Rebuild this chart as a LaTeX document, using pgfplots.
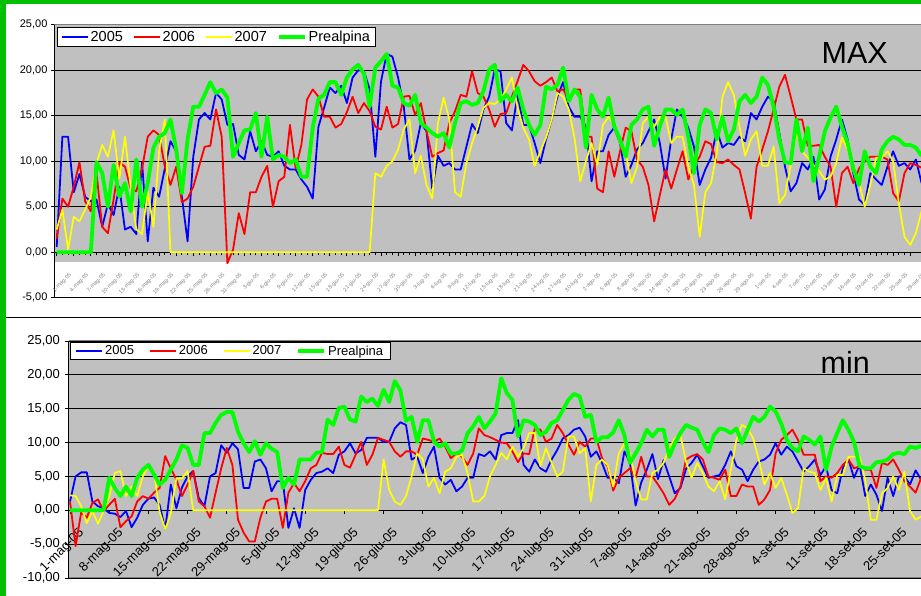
\documentclass[border=0pt]{standalone}
\usepackage{pgfplots}
\pgfplotsset{compat=1.18}
\usepackage{pgfplotstable}
\usepackage{fontspec}
\setmainfont{Liberation Sans}
\definecolor{bg}{RGB}{192,192,192}
\definecolor{c05}{RGB}{0,0,255}
\definecolor{c06}{RGB}{255,0,0}
\definecolor{c07}{RGB}{255,255,0}
\definecolor{cpre}{RGB}{0,255,0}
\definecolor{framegreen}{RGB}{0,192,0}

\pgfplotstableread{
d a b c p
0 0.6 1.5 2.5 0
1 12.7 5.9 4.7 0
2 12.7 5.0 0.3 0
3 6.6 7.2 3.9 0
4 8.6 9.9 3.4 0
5 6.1 5.6 4.7 0
6 5.6 4.5 6.1 0
7 5.8 8.7 9.8 9.9
8 2.8 2.8 11.8 8.7
9 5.3 2.1 10.5 5.0
10 4.1 5.8 13.4 9.6
11 7.2 9.9 8.1 6.1
12 2.5 9.4 12.7 7.6
13 2.8 7.0 7.2 4.5
14 2.0 6.7 2.5 10.2
15 9.9 9.2 2.0 5.0
16 1.2 12.7 6.7 7.6
17 7.1 13.4 2.8 11.5
18 6.1 12.9 11.1 12.7
19 9.2 9.4 14.6 13.1
20 12.2 7.4 0 14.6
21 11.1 9.4 0 11.3
22 6.1 5.5 0 6.5
23 1.2 5.9 0 12.4
24 10.5 7.2 0 16.0
25 14.6 9.4 0 16.0
26 15.3 11.6 0 17.3
27 14.6 11.7 0 18.7
28 17.5 15.7 0 17.5
29 16.8 12.7 0 17.9
30 14.0 -1.2 0 17.0
31 14.1 0.3 0 10.5
32 10.7 4.3 0 12.0
33 10.2 2.0 0 13.4
34 13.3 6.6 0 13.5
35 11.1 6.6 0 15.3
36 12.2 8.3 0 10.5
37 10.7 9.5 0 14.9
38 10.5 5.0 0 10.2
39 11.1 7.8 0 10.7
40 9.5 8.3 0 10.5
41 9.1 14.0 0 9.8
42 9.1 9.2 0 10.2
43 8.0 11.8 0 8.3
44 7.2 16.8 0 8.3
45 5.9 17.9 0 13.7
46 13.8 17.1 0 16.9
47 15.9 14.9 0 17.3
48 18.1 14.9 0 18.7
49 17.5 13.7 0 18.7
50 18.3 14.1 0 17.3
51 16.4 15.4 0 19.2
52 19.2 17.1 0 20.1
53 20.0 15.3 0 20.6
54 19.9 16.4 0 19.6
55 17.9 15.5 0 16.0
56 10.5 13.8 8.7 20.3
57 18.8 13.5 8.3 21.0
58 21.8 16.0 9.5 21.8
59 21.5 13.7 10.0 18.3
60 19.2 14.1 11.3 18.1
61 16.0 17.1 13.5 16.4
62 10.2 17.2 14.6 16.1
63 11.2 15.1 8.7 17.3
64 14.2 16.4 10.6 14.2
65 13.3 13.3 7.4 13.7
66 7.0 10.5 5.9 13.1
67 10.6 10.9 14.2 12.7
68 9.5 11.2 17.0 13.1
69 9.8 14.2 14.6 11.5
70 9.1 15.5 6.6 14.2
71 9.1 17.3 6.1 16.4
72 11.6 17.1 9.8 16.6
73 14.1 19.9 12.0 16.2
74 13.1 17.5 13.8 16.4
75 15.7 17.1 15.9 17.7
76 17.1 15.7 16.4 20.1
77 20.1 13.8 16.3 20.6
78 19.9 15.2 16.8 16.6
79 14.2 15.3 17.9 17.3
80 13.4 17.1 19.2 16.6
81 17.3 18.8 15.9 18.1
82 14.0 20.6 13.7 15.7
83 14.0 19.9 12.4 14.0
84 12.0 18.8 9.5 12.9
85 9.8 18.3 11.1 14.0
86 12.4 18.7 12.6 18.2
87 14.6 19.2 14.6 17.9
88 17.1 17.7 17.5 18.4
89 18.7 17.9 17.1 20.3
90 16.0 16.8 15.7 16.6
91 14.9 17.9 12.6 17.9
92 14.9 17.9 7.8 17.1
93 13.8 12.7 10.0 11.5
94 7.8 12.7 12.0 17.3
95 11.1 7.0 9.6 15.7
96 11.1 6.6 14.0 14.9
97 12.9 11.1 14.9 17.0
98 13.7 8.3 14.0 13.8
99 12.0 11.1 12.0 12.4
100 8.3 13.7 10.9 10.5
101 9.6 13.3 7.6 14.0
102 11.3 10.2 9.4 14.6
103 12.0 9.4 14.2 15.7
104 13.3 7.4 14.9 16.0
105 14.6 3.4 13.8 11.7
106 12.0 6.3 14.9 13.8
107 8.1 9.1 14.9 15.7
108 12.4 7.0 12.0 15.7
109 15.7 9.1 12.7 15.1
110 14.9 11.1 12.7 15.7
111 13.7 8.0 9.4 12.7
112 11.6 9.6 7.4 8.7
113 7.4 10.5 1.7 14.0
114 9.1 12.2 6.6 15.7
115 10.4 11.9 7.6 15.3
116 13.4 9.9 10.9 12.4
117 11.5 9.8 17.1 14.9
118 12.0 10.2 18.7 12.2
119 11.8 9.6 17.3 13.5
120 12.7 9.1 13.8 16.6
121 12.2 6.5 10.6 17.3
122 15.3 3.7 12.4 16.4
123 14.6 9.4 13.3 17.1
124 16.0 11.3 9.5 19.2
125 17.1 13.3 9.5 18.4
126 16.6 15.7 11.6 16.0
127 13.1 18.2 5.4 12.4
128 9.4 19.5 6.3 9.9
129 6.7 17.1 9.6 9.8
130 7.6 14.6 13.2 14.6
131 9.8 14.6 11.1 11.1
132 9.1 11.7 10.4 13.7
133 10.5 11.7 9.6 7.8
134 5.8 11.8 8.9 10.5
135 6.9 10.5 8.0 13.3
136 10.5 9.4 8.3 14.8
137 12.4 5.0 9.8 16.0
138 14.6 8.7 12.6 13.8
139 12.4 9.4 11.3 12.0
140 8.7 7.6 9.2 9.2
141 5.8 9.2 7.8 7.4
142 5.2 10.0 5.0 11.1
143 8.7 10.5 7.4 9.4
144 8.0 10.5 10.4 8.7
145 7.4 10.5 10.4 11.3
146 9.4 10.2 11.1 12.2
147 11.1 6.5 10.0 12.7
148 9.5 5.6 5.4 12.4
149 9.8 8.7 1.7 11.8
150 9.1 9.8 0.8 11.8
151 10.2 9.6 2.1 11.5
152 7.6 9.3 4.5 10.6
}\topdata

\pgfplotstableread{
d a b c p
0 1.3 1.3 2.2 0
1 5.0 -5.3 2.1 0
2 5.6 -0.3 0.6 0
3 5.6 -1.1 -1.9 0
4 1.3 1.1 -0.1 0
5 0.6 1.6 -2.0 0
6 0.3 -0.1 -0.1 0
7 -0.4 0.8 2.0 4.8
8 -0.5 1.7 5.5 3.3
9 -1.0 -2.5 5.8 2.1
10 -0.1 -1.6 2.1 3.5
11 -2.5 -0.9 3.5 2.1
12 -1.1 1.3 2.1 4.8
13 0.8 2.1 5.0 6.0
14 1.7 1.7 6.6 6.7
15 1.9 2.6 5.6 5.3
16 0.8 3.3 -0.2 3.8
17 -2.8 8.0 -2.8 4.5
18 3.8 6.2 -0.5 6.0
19 0.3 4.5 4.7 7.5
20 3.4 2.1 4.7 9.6
21 5.0 3.8 5.8 9.2
22 5.8 5.8 0 6.7
23 1.8 1.3 0 6.7
24 0.6 0.6 0 11.4
25 5.0 -1.1 0 11.4
26 5.5 2.6 0 12.9
27 9.6 6.2 0 14.1
28 8.5 9.2 0 14.5
29 9.9 6.7 0 14.5
30 9.0 -1.4 0 11.6
31 3.3 -3.3 0 9.9
32 3.3 -4.6 0 8.6
33 7.2 -4.6 0 10.2
34 7.5 -1.1 0 8.2
35 6.2 1.3 0 9.9
36 2.8 1.7 0 9.1
37 4.3 1.7 0 8.6
38 4.3 -2.6 0 3.3
39 -2.6 2.6 0 4.8
40 0.3 4.0 0 3.8
41 -2.6 2.8 0 7.5
42 3.0 4.3 0 7.5
43 4.5 6.2 0 7.5
44 5.5 6.7 0 8.5
45 5.7 8.5 0 8.6
46 6.2 8.3 0 13.4
47 5.5 8.3 0 12.6
48 8.2 9.4 0 15.1
49 8.7 6.7 0 15.3
50 9.9 6.3 0 13.4
51 8.4 8.2 0 13.1
52 8.9 10.1 0 16.8
53 10.7 6.7 0 16.0
54 10.7 8.2 0 16.5
55 10.7 10.7 0 15.4
56 10.1 10.4 7.5 17.8
57 10.1 10.1 3.0 16.0
58 12.1 8.7 1.3 19.1
59 13.0 7.9 0.8 17.7
60 12.6 8.7 2.1 13.2
61 7.5 8.7 5.0 13.8
62 7.9 8.2 8.4 10.1
63 5.5 10.6 7.5 13.3
64 7.9 10.4 3.5 13.3
65 9.4 10.1 4.8 10.1
66 4.8 10.6 2.5 9.4
67 3.8 9.4 5.7 9.9
68 4.5 7.7 6.2 8.4
69 2.8 8.4 7.9 8.4
70 3.5 7.9 8.2 8.8
71 4.8 6.7 5.5 11.4
72 4.8 8.4 1.3 12.4
73 8.3 12.1 1.3 13.8
74 8.0 11.1 2.1 12.1
75 8.7 10.8 5.0 13.1
76 7.5 10.4 6.7 14.3
77 11.1 10.0 8.5 19.5
78 11.4 9.9 7.5 17.3
79 11.4 8.7 9.4 16.3
80 13.3 7.1 7.9 10.9
81 6.7 8.4 9.2 13.3
82 5.7 8.3 11.4 13.1
83 7.5 12.1 11.4 12.6
84 6.2 11.9 6.5 11.1
85 5.7 10.1 9.2 11.6
86 7.5 10.6 7.0 12.9
87 8.9 12.6 5.0 13.3
88 10.6 11.4 5.7 14.8
89 11.1 9.7 10.9 16.3
90 11.9 8.2 10.9 17.2
91 12.2 10.1 8.4 16.8
92 10.9 9.4 9.2 13.8
93 7.9 10.6 1.3 14.1
94 8.7 10.6 6.7 10.1
95 7.0 7.7 7.5 10.8
96 4.8 6.5 6.7 10.8
97 4.8 2.9 3.5 11.5
98 4.0 4.8 8.4 13.3
99 8.7 5.5 9.9 11.1
100 7.0 6.2 8.4 7.0
101 0.7 4.8 4.3 8.4
102 4.1 7.9 1.6 9.9
103 6.0 5.0 1.6 11.9
104 8.3 5.0 5.5 10.9
105 4.6 3.8 6.0 11.9
106 7.4 2.5 7.0 11.9
107 5.0 0.8 9.2 7.9
108 2.5 1.7 10.6 9.9
109 3.3 3.5 11.1 11.4
110 6.1 7.5 7.2 12.6
111 7.0 8.0 4.8 12.2
112 8.2 8.3 7.0 11.9
113 6.5 7.5 5.5 10.1
114 4.8 5.0 3.5 8.6
115 5.0 4.8 2.8 11.1
116 5.2 4.5 4.3 12.1
117 6.7 6.0 1.6 11.9
118 8.7 2.1 6.0 11.4
119 6.5 2.1 10.4 12.1
120 6.0 3.8 12.6 9.9
121 4.3 3.5 12.1 11.9
122 6.0 3.5 10.6 13.8
123 7.2 0.8 7.5 13.1
124 7.5 1.6 3.8 13.8
125 8.2 3.0 5.5 15.3
126 9.9 8.4 3.3 14.6
127 8.2 10.4 4.8 12.8
128 9.4 11.1 2.3 10.4
129 8.7 11.9 -0.4 9.2
130 7.2 10.4 0.3 8.7
131 5.7 8.2 6.2 10.9
132 6.5 8.2 5.7 10.4
133 7.5 8.2 5.5 9.7
134 5.2 4.3 3.0 10.9
135 6.5 5.0 4.8 6.0
136 3.0 4.8 1.3 9.4
137 2.5 5.5 5.2 11.4
138 6.2 6.7 5.2 13.3
139 7.5 7.5 7.9 11.9
140 4.8 6.2 7.9 10.1
141 6.7 6.5 7.9 6.5
142 2.1 6.0 4.5 6.2
143 3.8 6.0 -1.4 6.2
144 2.3 3.3 -1.4 7.1
145 -0.1 7.0 2.5 7.2
146 4.8 6.7 3.3 7.5
147 2.1 7.5 5.0 8.3
148 5.0 6.0 3.0 8.5
149 5.0 4.3 5.7 8.3
150 3.8 3.5 -0.1 9.4
151 5.9 2.6 -1.4 9.2
152 4.5 4.8 -0.9 9.5
}\botdata

\pgfplotsset{
  panel/.style={
    scale only axis,
    anchor=south west,
    axis x line*=middle,
    axis y line*=left,
    hide obscured x ticks=false,
    hide obscured y ticks=false,
    ymajorgrids,
    major grid style={black, line width=1.1pt},
    tick style={black, line width=0.8pt},
    tick align=outside,
    major tick length=3.5pt,
    minor tick length=3pt,
    axis line style={black, line width=1.1pt},
    yticklabel style={/pgf/number format/fixed, /pgf/number format/fixed zerofill,
      /pgf/number format/precision=2, /pgf/number format/use comma,
      /pgf/number format/assume math mode=true},
    legend cell align=left,
    legend columns=4,
    legend image code/.code={\draw[##1] (0pt,0pt) -- (26pt,0pt);},
  },
  s05/.style={color=c05, line width=1.8pt, line join=round, no markers},
  s06/.style={color=c06, line width=1.8pt, line join=round, no markers},
  s07/.style={color=c07, line width=1.7pt, line join=round, no markers},
  spre/.style={color=cpre, line width=3.8pt, line join=round, no markers},
}

\begin{document}
\begin{tikzpicture}
\useasboundingbox (0,0) rectangle (921pt,596pt);
% top panel gray plot area (the lower strip is white behind the date labels)
\fill[bg] (54.42pt,334pt) rectangle (921pt,571.2pt);
\begin{axis}[panel,
  at={(54.42pt,298.2pt)}, width=866.58pt, height=273pt,
  xmin=-0.4, xmax=151.9, ymin=-5, ymax=25,
  ytick={-5,0,...,25},
  xtick={0,3,...,150}, minor x tick num=2,
  xticklabels={1-mag-05,4-mag-05,7-mag-05,10-mag-05,13-mag-05,16-mag-05,19-mag-05,22-mag-05,25-mag-05,28-mag-05,31-mag-05,3-giu-05,6-giu-05,9-giu-05,12-giu-05,15-giu-05,18-giu-05,21-giu-05,24-giu-05,27-giu-05,30-giu-05,3-lug-05,6-lug-05,9-lug-05,12-lug-05,15-lug-05,18-lug-05,21-lug-05,24-lug-05,27-lug-05,30-lug-05,2-ago-05,5-ago-05,8-ago-05,11-ago-05,14-ago-05,17-ago-05,20-ago-05,23-ago-05,26-ago-05,29-ago-05,1-set-05,4-set-05,7-set-05,10-set-05,13-set-05,16-set-05,19-set-05,22-set-05,25-set-05,28-set-05},
  xticklabel style={rotate=45, anchor=north east, font=\fontsize{5.5}{6}\selectfont, text=gray, yshift=-17pt},
  yticklabel style={font=\fontsize{11}{12}\selectfont},
  legend style={at={(axis description cs:0.0035,0.9908)}, anchor=north west,
    draw=black, line width=0.8pt, fill=white, inner xsep=3pt, inner ysep=1.5pt,
    font=\fontsize{14.5}{16}\selectfont,
    /tikz/every even column/.append style={column sep=8pt}},
]
\addplot[s05] table[x=d,y=a]{\topdata};
\addplot[s06] table[x=d,y=b]{\topdata};
\addplot[s07] table[x=d,y=c]{\topdata};
\addplot[spre] table[x=d,y=p]{\topdata};
\legend{2005,2006,2007,Prealpina}
\draw[gray, line width=1pt] (rel axis cs:0,1) -- (rel axis cs:1,1);
\end{axis}

\begin{axis}[panel,
  at={(68.88pt,18pt)}, width=852.1pt, height=237pt,
  axis background/.style={fill=bg},
  xmin=-0.2, xmax=151.96, ymin=-10, ymax=25,
  ytick={-10,-5,...,25},
  xtick={0,7,...,147},
  xticklabels={1-mag-05,8-mag-05,15-mag-05,22-mag-05,29-mag-05,5-giu-05,12-giu-05,19-giu-05,26-giu-05,3-lug-05,10-lug-05,17-lug-05,24-lug-05,31-lug-05,7-ago-05,14-ago-05,21-ago-05,28-ago-05,4-set-05,11-set-05,18-set-05,25-set-05},
  xticklabel style={rotate=45, anchor=north east, font=\fontsize{13}{14}\selectfont, yshift=-11pt},
  yticklabel style={font=\fontsize{13}{14}\selectfont, xshift=-2pt},
  legend style={at={(axis description cs:0.0013,0.9945)}, anchor=north west,
    draw=black, line width=0.8pt, fill=white, inner xsep=5pt, inner ysep=1pt,
    font=\fontsize{13}{14}\selectfont,
    /tikz/every even column/.append style={column sep=13pt}},
]
\addplot[s05] table[x=d,y=a]{\botdata};
\addplot[s06] table[x=d,y=b]{\botdata};
\addplot[s07] table[x=d,y=c]{\botdata};
\addplot[spre] table[x=d,y=p]{\botdata};
\legend{2005,2006,2007,Prealpina}
\draw[gray, line width=1pt] (rel axis cs:0,1) -- (rel axis cs:1,1);
\draw[gray, line width=1pt] (rel axis cs:0,0) -- (rel axis cs:1,0);
\end{axis}

\node[font=\fontsize{30.5}{32}\selectfont, anchor=base] at (854.7pt,532.7pt) {MAX};
\node[font=\fontsize{30.5}{32}\selectfont, anchor=base] at (845.3pt,222.7pt) {min};
\draw[black, line width=1.3pt] (5pt,278.7pt) -- (921pt,278.7pt);
\fill[framegreen] (0,0) rectangle (5.5pt,596pt);
\fill[framegreen] (0,592pt) rectangle (921pt,596pt);
\end{tikzpicture}
\end{document}
